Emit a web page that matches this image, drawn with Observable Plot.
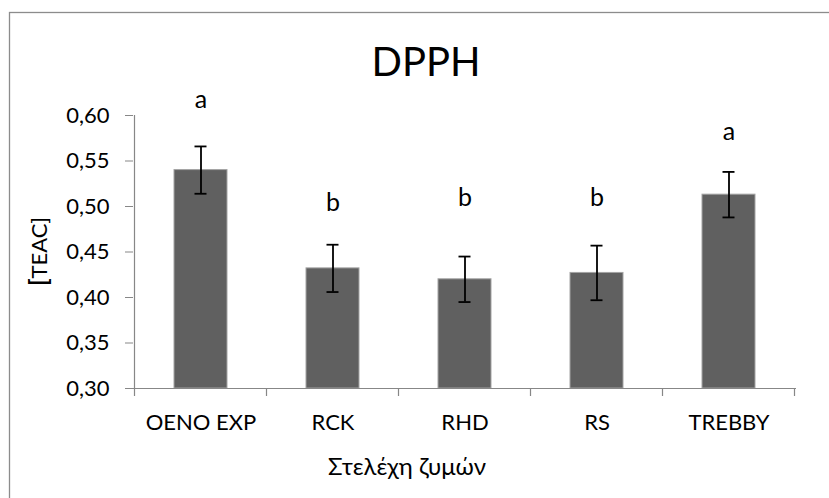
<!DOCTYPE html>
<html>
<head>
<meta charset="utf-8">
<script src="https://cdn.jsdelivr.net/npm/d3@7"></script>
<script src="https://cdn.jsdelivr.net/npm/@observablehq/plot@0.6"></script>
<style>
  html, body { margin: 0; padding: 0; background: #fff; }
  #chart { width: 829px; height: 498px; overflow: hidden; }
</style>
</head>
<body>
<div id="chart"></div>
<script>
const categories = ["OENO EXP", "RCK", "RHD", "RS", "TREBBY"];
const means = [0.540, 0.432, 0.420, 0.427, 0.513];
const errors = [0.026, 0.026, 0.025, 0.030, 0.025];
const letters = ["a", "b", "b", "b", "a"];
const letterY = [0.608, 0.495, 0.501, 0.501, 0.573];
const yTicks = [0.30, 0.35, 0.40, 0.45, 0.50, 0.55, 0.60];
const title = "DPPH";
const xLabel = "Στελέχη ζυμών";
const yLabel = "[TEAC]";

const data = categories.map((c, i) => ({
  cat: c, mean: means[i], lo: means[i] - errors[i], hi: means[i] + errors[i],
  letter: letters[i], ly: letterY[i]
}));

const fmt = d => d3.format(".2f")(d).replace(".", ",");
const axisGrey = "#878787";

const plot = Plot.plot({
  width: 829,
  height: 498,
  marginLeft: 133,
  marginRight: 33,
  marginTop: 115,
  marginBottom: 110,
  style: { fontFamily: "Lato, 'Open Sans', sans-serif", fontSize: "20px", color: "#000", background: "#fff", overflow: "visible" },
  x: { domain: categories, paddingInner: 0.6, paddingOuter: 0.3, label: null },
  y: { domain: [0.30, 0.60], label: null },
  marks: [
    Plot.barY(data, { x: "cat", y1: 0.30, y2: "mean", fill: "#606060", stroke: "#a3a3a3", strokeWidth: 1 }),
    Plot.ruleX(data, { x: "cat", y1: "lo", y2: "hi", stroke: "#000", strokeWidth: 1.8 }),
    Plot.tickY(data, { x: "cat", y: "lo", stroke: "#000", strokeWidth: 1.8, inset: 20.5 }),
    Plot.tickY(data, { x: "cat", y: "hi", stroke: "#000", strokeWidth: 1.8, inset: 20.5 }),
    Plot.ruleY([0.30], { stroke: axisGrey, strokeWidth: 1.2 }),
    Plot.text(data, { x: "cat", y: "ly", text: "letter", lineAnchor: "bottom", fontSize: 25, fill: "#000" }),
    Plot.axisY({ ticks: yTicks, tickFormat: fmt, tickSize: 8, tickPadding: 16, stroke: axisGrey, fill: "#000", fontSize: 22, label: null }),
    Plot.axisX({ tickSize: 0, tickPadding: 26, fill: "#000", fontSize: 22, label: null })
  ]
});

document.getElementById("chart").appendChild(plot);

const svg = d3.select(plot);
const xs = plot.scale("x");
const ys = plot.scale("y");
const [y0, y1] = [ys.apply(0.30), ys.apply(0.60)];
// band boundaries
const half = xs.step / 2;
const bounds = categories.map(c => xs.apply(c) + xs.bandwidth / 2 - half);
bounds.push(xs.apply(categories[categories.length - 1]) + xs.bandwidth / 2 + half);

const g = svg.append("g").attr("stroke", axisGrey).attr("stroke-width", 1.2);
// y-axis line
g.append("line").attr("x1", bounds[0]).attr("x2", bounds[0]).attr("y1", y1).attr("y2", y0);
// x boundary ticks
bounds.forEach(b => {
  g.append("line").attr("x1", b).attr("x2", b).attr("y1", y0).attr("y2", y0 + 8);
});

// outer chart border (cut by page edge)
svg.append("rect").attr("x", 9.5).attr("y", 12.5).attr("width", 900).attr("height", 600)
  .attr("fill", "none").attr("stroke", "#8c8c8c").attr("stroke-width", 1.3);

// title
svg.append("text").attr("x", 426).attr("y", 76).attr("text-anchor", "middle")
  .attr("font-size", 40).attr("fill", "#000").text(title);

// x axis title
svg.append("text").attr("x", 407).attr("y", 475).attr("text-anchor", "middle")
  .attr("font-size", 24).attr("fill", "#000").text(xLabel);

// y axis title
const yt = svg.append("text").attr("transform", `translate(47,${(y0 + y1) / 2 + 0}) rotate(-90)`)
  .attr("text-anchor", "middle").attr("font-size", 22).attr("fill", "#000");
yt.append("tspan").attr("font-weight", "bold").attr("font-size", 24).text(yLabel[0]);
yt.append("tspan").text(yLabel.slice(1));
</script>
</body>
</html>
